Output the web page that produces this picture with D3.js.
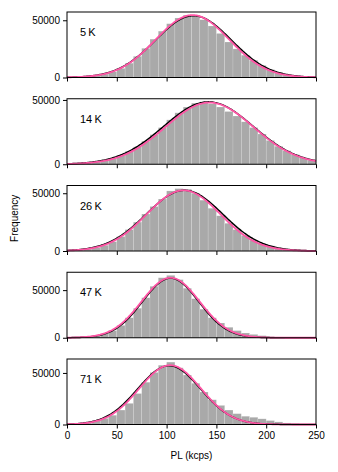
<!DOCTYPE html>
<html>
<head>
<meta charset="utf-8">
<script src="https://cdnjs.cloudflare.com/ajax/libs/d3/7.8.5/d3.min.js"></script>
<style>
  body { margin: 0; background: #fff; }
  svg { display: block; font-family: "Liberation Sans", Arial, sans-serif; }
</style>
</head>
<body>
<script>
'use strict';

// temperatures, one panel each
const temps = ["5\u2009K", "14\u2009K", "26\u2009K", "47\u2009K", "71\u2009K"];

// histogram bins (kcps), 30 bins from 0 to 250
const binEdges = [0, 8.33, 16.67, 25, 33.33, 41.67, 50, 58.33, 66.67, 75, 83.33, 91.67,
  100, 108.33, 116.67, 125, 133.33, 141.67, 150, 158.33, 166.67, 175, 183.33, 191.67,
  200, 208.33, 216.67, 225, 233.33, 241.67, 250];

// counts per bin
const counts5K = [300, 500, 900, 1700, 3000, 5000, 8000, 12500, 18500, 25500, 33500, 40500,
  47000, 52000, 54500, 54000, 50500, 45000, 38500, 31000, 25000, 19500, 15000, 10500,
  7000, 4500, 2800, 1600, 900, 500];
const counts14K = [400, 700, 1200, 2000, 3100, 4700, 7000, 10000, 13500, 18000, 23000, 28500,
  34500, 40000, 44500, 47500, 48500, 47000, 44500, 41000, 37500, 33000, 28500, 23500,
  18500, 14000, 10500, 7500, 5000, 3200];
const counts26K = [500, 900, 1700, 3000, 5000, 8000, 12500, 18500, 25000, 32000, 38500, 45000,
  52000, 54000, 53500, 50000, 44000, 37000, 30500, 24000, 18500, 13500, 9500, 6500,
  4500, 3000, 1800, 1000, 500, 250];
const counts47K = [150, 400, 900, 2000, 4000, 7500, 13000, 21000, 31000, 42000, 54000, 63000,
  65500, 61000, 52000, 41000, 30000, 21000, 15500, 11000, 7500, 5000, 3500, 2200,
  1300, 800, 500, 300, 150, 80];
const counts71K = [800, 1500, 2500, 4000, 6000, 9000, 14000, 20500, 30000, 41000, 50500, 57500,
  60500, 55000, 48000, 40000, 31500, 24000, 18500, 14000, 10500, 8000, 7000, 5500,
  3800, 2500, 1500, 900, 500, 300];
const allCounts = [counts5K, counts14K, counts26K, counts47K, counts71K];

// gaussian fits: black and pink (mean, sigma, peak)
const blackMean = [127, 142, 118, 104, 102.5];
const blackSigma = [38, 45, 38.5, 28.3, 31.5];
const blackPeak = [54000, 48500, 52500, 62500, 57000];
const pinkMean = [126, 143, 117, 104, 103.5];
const pinkSigma = [37, 44, 37, 29, 31];
const pinkPeak = [54500, 48000, 52500, 63000, 57500];

// axis ticks
const xTicks = [0, 50, 100, 150, 200, 250];
const yTicks = [0, 50000];

(function() {

  const W = 338, H = 472;
  const left = 67, right = 316;
  const firstTop = 12, step = 86.75, panelH = 65.5;
  const pink = "#ff55a5";

  let svg = d3.select('body').append('svg')
    .attr('width', W)
    .attr('height', H);

  let xScale = d3.scaleLinear().domain([0, 250]).range([left, right]);

  temps.forEach((t, i) => drawPanel(i, i === temps.length - 1));

  // axis labels
  svg.append('text')
    .attr('x', (left + right) / 2)
    .attr('y', 459)
    .attr('text-anchor', 'middle')
    .style('font-size', '10px')
    .text('PL (kcps)');

  svg.append('text')
    .attr('transform', 'translate(18, ' + (firstTop + (4 * step + panelH) / 2) + ')rotate(-90)')
    .attr('text-anchor', 'middle')
    .style('font-size', '10px')
    .text('Frequency');

  // one histogram panel with two fit curves
  function drawPanel(i, showXLabels) {
    let top = firstTop + i * step;
    let bottom = top + panelH;
    let counts = allCounts[i];

    let gauss = function(x, m, s, a) { return a * Math.exp(-(x - m) * (x - m) / (2 * s * s)); };
    let xs = d3.range(0, 250.5, 1);
    let blackPts = xs.map((x) => [x, gauss(x, blackMean[i], blackSigma[i], blackPeak[i])]);
    let pinkPts = xs.map((x) => [x, gauss(x, pinkMean[i], pinkSigma[i], pinkPeak[i])]);

    let yMax = 1.05 * d3.max([d3.max(counts), d3.max(blackPts, (d) => d[1]), d3.max(pinkPts, (d) => d[1])]);
    let yScale = d3.scaleLinear().domain([0, yMax]).range([bottom, top]);

    let g = svg.append('g');

    // bars
    g.selectAll('rect.bar')
      .data(counts)
      .enter()
      .append('rect')
        .attr('class', 'bar')
        .attr('x', (d, j) => xScale(binEdges[j]))
        .attr('width', (d, j) => xScale(binEdges[j + 1]) - xScale(binEdges[j]))
        .attr('y', (d) => yScale(d))
        .attr('height', (d) => yScale(0) - yScale(d))
        .attr('fill', '#a9a9a9')
        .attr('stroke', 'rgba(255,255,255,0.3)')
        .attr('stroke-width', 0.5);

    let line = d3.line()
      .x((d) => xScale(d[0]))
      .y((d) => yScale(d[1]));

    g.append('path')
      .datum(blackPts)
      .attr('fill', 'none')
      .attr('stroke', '#000')
      .attr('stroke-width', 1.5)
      .attr('d', line);

    g.append('path')
      .datum(pinkPts)
      .attr('fill', 'none')
      .attr('stroke', pink)
      .attr('stroke-width', 1.8)
      .attr('d', line);

    // frame
    g.append('rect')
      .attr('x', left)
      .attr('y', top)
      .attr('width', right - left)
      .attr('height', panelH)
      .attr('fill', 'none')
      .attr('stroke', '#000')
      .attr('stroke-width', 1);

    // axes
    let xAxis = d3.axisBottom(xScale)
      .tickValues(xTicks)
      .tickSize(4)
      .tickPadding(3)
      .tickFormat(showXLabels ? d3.format('d') : () => '');
    let xg = g.append('g')
      .attr('transform', 'translate(0, ' + bottom + ')')
      .call(xAxis);

    let yAxis = d3.axisLeft(yScale)
      .tickValues(yTicks)
      .tickSize(4)
      .tickPadding(3)
      .tickFormat(d3.format('d'));
    let yg = g.append('g')
      .attr('transform', 'translate(' + left + ', 0)')
      .call(yAxis);

    [xg, yg].forEach((a) => {
      a.select('.domain').remove();
      a.selectAll('text').style('font-size', '10px').style('font-family', '"Liberation Sans", Arial, sans-serif').attr('fill', '#000');
      a.selectAll('line').attr('stroke', '#000');
    });

    // temperature label
    g.append('text')
      .attr('x', 80)
      .attr('y', top + 24)
      .style('font-size', '11px')
      .text(temps[i]);
  }

})();
</script>
</body>
</html>
